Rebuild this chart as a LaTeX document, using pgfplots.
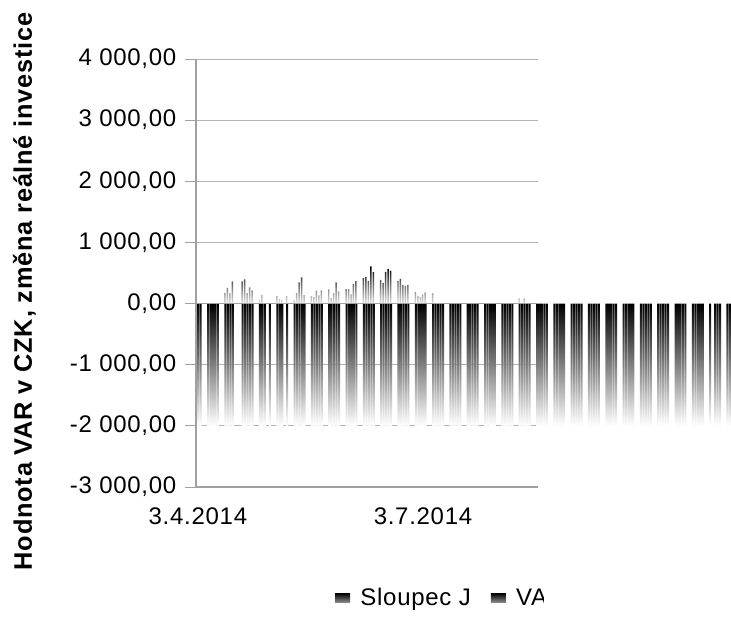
\documentclass[border=0pt]{standalone}
\usepackage{fontspec}
\setmainfont{Liberation Sans}[LetterSpace=3]
\usepackage{pgfplots}
\pgfplotsset{compat=1.18}

\definecolor{gridgray}{HTML}{B3B3B3}
\definecolor{axisgray}{HTML}{A0A0A0}

\begin{document}
\begin{tikzpicture}
\begin{scope}
% the legend is cut off on the right, as in the original export
\clip (0,0) -- (407.25pt,0) -- (407.25pt,25.5pt) -- (560pt,25.5pt) -- (560pt,470pt) -- (0,470pt) -- cycle;
\begin{axis}[
    at={(147pt,99pt)}, anchor=south west,
    scale only axis,
    width=256.5pt, height=321pt,
    clip=false,
    xmin=-0.77, xmax=137.5,
    ymin=-3000, ymax=4000,
    ytick={-3000,-2000,...,4000},
    xtick={0,91},
    xticklabels={3.4.2014,3.7.2014},
    scaled y ticks=false,
    axis x line*=bottom, axis y line*=left,
    axis line style={-, draw=axisgray, line width=0.8pt},
    ymajorgrids,
    major grid style={draw=gridgray, line width=0.75pt},
    major x tick style={draw=none},
    major y tick style={draw=axisgray, line width=0.75pt},
    ytick align=outside,
    major tick length=8.25pt,
    tick label style={font=\fontsize{18}{21}\selectfont},
    xticklabel style={yshift=-12pt},
    yticklabel style={xshift=-3pt, /pgf/number format/.cd, fixed, fixed zerofill, precision=2,
        use comma, 1000 sep={\ }, assume math mode=true},
    ylabel={Hodnota VAR v CZK, změna reálné investice},
    ylabel style={at={(rel axis cs:-0.5015,0.457)}, anchor=center,
        font=\fontsize{19}{22}\selectfont\bfseries},
    legend columns=2,
    legend style={at={(0.406,-0.259)}, anchor=west, draw=none, fill=none,
        inner sep=0pt, font=\fontsize{18}{21}\selectfont,
        /tikz/every even column/.append style={column sep=13pt}},
    legend image code/.code={\shade[top color=black, bottom color=black!45] (0pt,-3.4pt) rectangle (11.25pt,3.4pt);
        \path (0pt,0pt) -- (17pt,0pt);},
]
% VAR series: every trading day
\addplot[ybar, bar width=0.82, bar shift=0.1, draw=none, top color=black, bottom color=white]
coordinates {
(0,-2000) (1,-2000)
(4,-2000) (5,-2000) (6,-2000) (7,-2000) (8,-2000)
(11,-2000) (12,-2000) (13,-2000) (14,-2000)
(18,-2000) (19,-2000) (20,-2000) (21,-2000) (22,-2000)
(25,-2000) (26,-2000) (27,-2000) (29,-2000)
(32,-2000) (33,-2000) (34,-2000) (36,-2000)
(39,-2000) (40,-2000) (41,-2000) (42,-2000) (43,-2000)
(46,-2000) (47,-2000) (48,-2000) (49,-2000) (50,-2000)
(53,-2000) (54,-2000) (55,-2000) (56,-2000) (57,-2000)
(60,-2000) (61,-2000) (62,-2000) (63,-2000) (64,-2000)
(67,-2000) (68,-2000) (69,-2000) (70,-2000) (71,-2000)
(74,-2000) (75,-2000) (76,-2000) (77,-2000) (78,-2000)
(81,-2000) (82,-2000) (83,-2000) (84,-2000) (85,-2000)
(88,-2000) (89,-2000) (90,-2000) (91,-2000) (92,-2000)
(95,-2000) (96,-2000) (97,-2000) (98,-2000) (99,-2000)
(102,-2000) (103,-2000) (104,-2000) (105,-2000) (106,-2000)
(109,-2000) (110,-2000) (111,-2000) (112,-2000) (113,-2000)
(116,-2000) (117,-2000) (118,-2000) (119,-2000) (120,-2000)
(123,-2000) (124,-2000) (125,-2000) (126,-2000) (127,-2000)
(130,-2000) (131,-2000) (132,-2000) (133,-2000) (134,-2000)
(137,-2000) (138,-2000) (139,-2000) (140,-2000) (141,-2000)
(144,-2000) (145,-2000) (146,-2000) (147,-2000) (148,-2000)
(151,-2000) (152,-2000) (153,-2000) (154,-2000) (155,-2000)
(158,-2000) (159,-2000) (160,-2000) (161,-2000) (162,-2000)
(165,-2000) (166,-2000) (167,-2000) (168,-2000) (169,-2000)
(172,-2000) (173,-2000) (174,-2000) (175,-2000) (176,-2000)
(179,-2000) (180,-2000) (181,-2000) (182,-2000) (183,-2000)
(186,-2000) (187,-2000) (188,-2000) (189,-2000) (190,-2000)
(193,-2000) (194,-2000) (195,-2000) (196,-2000) (197,-2000)
(200,-2000) (201,-2000) (202,-2000) (203,-2000) (204,-2000)
(207,-2000) (209,-2000) (210,-2000) (211,-2000)
(214,-2000) (215,-2000) (216,-2000) (217,-2000) (218,-2000)
};
\addlegendentry{Sloupec J}
% change of the real investment
\addplot[ybar, bar width=0.6, bar shift=-0.1, draw=none, top color=black, bottom color=black!12]
coordinates {
(11,175) (12,255) (13,165) (14,365)
(18,365) (19,397) (20,172) (21,266) (22,218)
(25,58) (26,138)
(32,120) (33,72) (34,57) (36,122)
(39,52) (40,170) (41,345) (42,430) (43,138)
(46,122) (47,105) (48,210) (49,136) (50,218)
(53,234) (54,88) (55,170) (56,345) (57,201)
(60,237) (61,237) (62,152) (63,318) (64,367)
(67,420) (68,435) (69,370) (70,610) (71,515)
(74,386) (75,337) (76,517) (77,566) (78,533)
(81,370) (82,403) (83,305) (84,288) (85,305)
(88,188) (89,122) (90,108) (91,152) (92,185)
(95,170)
(130,87) (132,87)
};
\addlegendentry{VAR}
\addplot[axisgray, line width=1.2pt, forget plot] coordinates {(-0.77,0) (137.5,0)};
\end{axis}
\end{scope}
\pgfresetboundingbox
\path (0,0) rectangle (548.25pt,464.25pt);
\end{tikzpicture}
\end{document}
